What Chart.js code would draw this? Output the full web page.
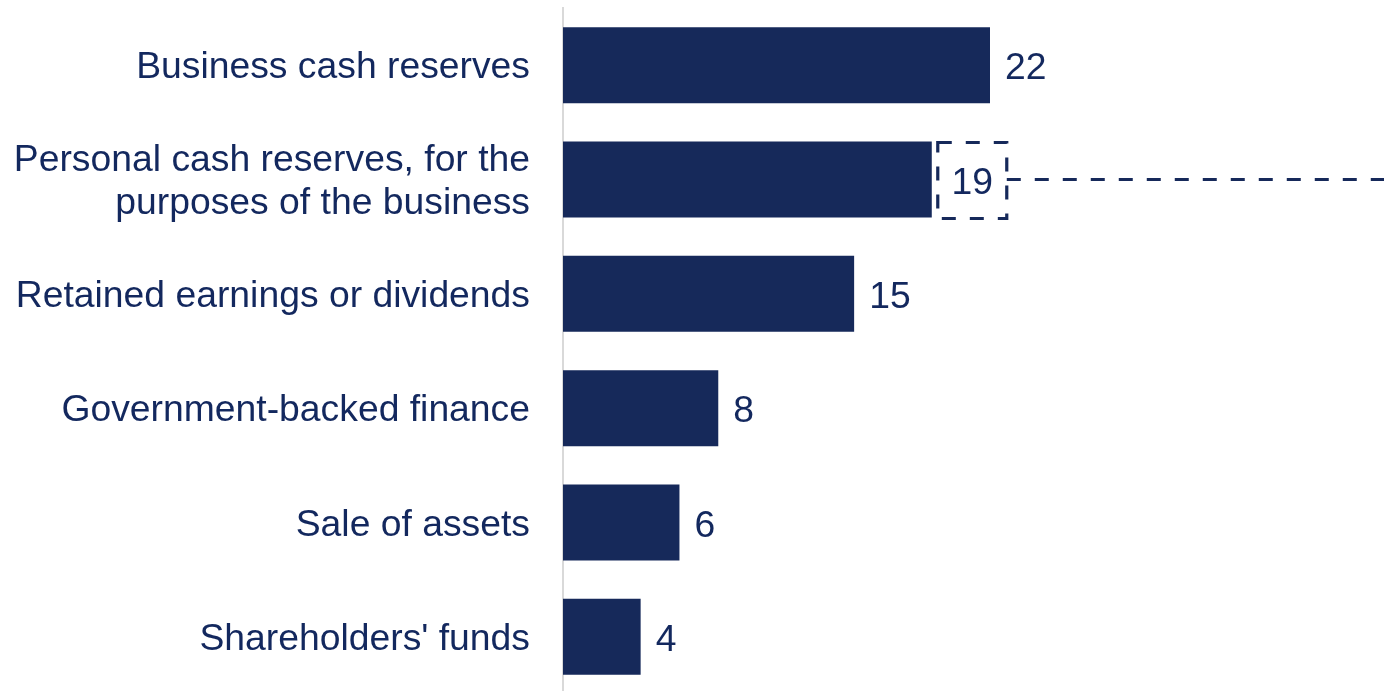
<!DOCTYPE html>
<html>
<head>
<meta charset="utf-8">
<script src="https://cdn.jsdelivr.net/npm/chart.js@4/dist/chart.umd.min.js"></script>
<style>
  html, body { margin: 0; padding: 0; background: #fff; overflow: hidden; }
  #wrap { width: 1384px; height: 695px; position: relative; }
</style>
</head>
<body>
<div id="wrap"><canvas id="myChart"></canvas></div>
<script>
var categories = [
  "Business cash reserves",
  ["Personal cash reserves, for the", "purposes of the business"],
  "Retained earnings or dividends",
  "Government-backed finance",
  "Sale of assets",
  "Shareholders' funds"
];
var values = [22, 19, 15, 8, 6, 4];
var highlightIndex = 1;

var navy = "#16295a";
var textColor = "#13285e";

// value labels, with a dashed box + leader line on the highlighted one
var valueLabels = {
  id: "valueLabels",
  afterDatasetsDraw: function(chart) {
    var ctx = chart.ctx;
    var meta = chart.getDatasetMeta(0);
    ctx.save();
    ctx.font = "37.3px 'Liberation Sans', Arial, sans-serif";
    ctx.fillStyle = textColor;
    ctx.textBaseline = "middle";
    meta.data.forEach(function(bar, i) {
      var txt = String(values[i]);
      if (i === highlightIndex) {
        var top = bar.y - bar.height / 2 + 1;
        var bot = bar.y + bar.height / 2 + 1;
        var left = bar.x + 6;
        var right = bar.x + 75;
        ctx.strokeStyle = navy;
        ctx.lineWidth = 3.2;
        ctx.setLineDash([14, 14]);
        ctx.strokeRect(left, top, right - left, bot - top);
        ctx.beginPath();
        ctx.moveTo(right, bar.y);
        ctx.lineTo(chart.width, bar.y);
        ctx.stroke();
        ctx.setLineDash([]);
        ctx.textAlign = "center";
        ctx.fillText(txt, (left + right) / 2, bar.y + 4);
      } else {
        ctx.textAlign = "left";
        ctx.fillText(txt, bar.x + 15, bar.y + 4);
      }
    });
    ctx.restore();
  }
};

new Chart("myChart", {
  type: "bar",
  data: {
    labels: categories,
    datasets: [{
      data: values,
      backgroundColor: navy,
      borderWidth: 0,
      categoryPercentage: 1,
      barPercentage: 0.665
    }]
  },
  options: {
    indexAxis: "y",
    responsive: true,
    maintainAspectRatio: false,
    animation: false,
    layout: { padding: { top: 8, bottom: 1, left: 0, right: 0 } },
    plugins: {
      legend: { display: false },
      tooltip: { enabled: false }
    },
    scales: {
      x: {
        display: false,
        min: 0,
        max: 42.3
      },
      y: {
        grid: { display: false },
        border: { display: true, color: "#d9d9d9", width: 2 },
        ticks: {
          color: textColor,
          padding: 25,
          labelOffset: 3,
          font: { family: "'Liberation Sans', Arial, sans-serif", size: 37.3, lineHeight: 1.15 }
        },
        afterFit: function(scale) {
          scale.width = 563;
          scale.paddingTop = 0;
          scale.paddingBottom = 0;
        }
      }
    }
  },
  plugins: [valueLabels]
});
</script>
</body>
</html>
